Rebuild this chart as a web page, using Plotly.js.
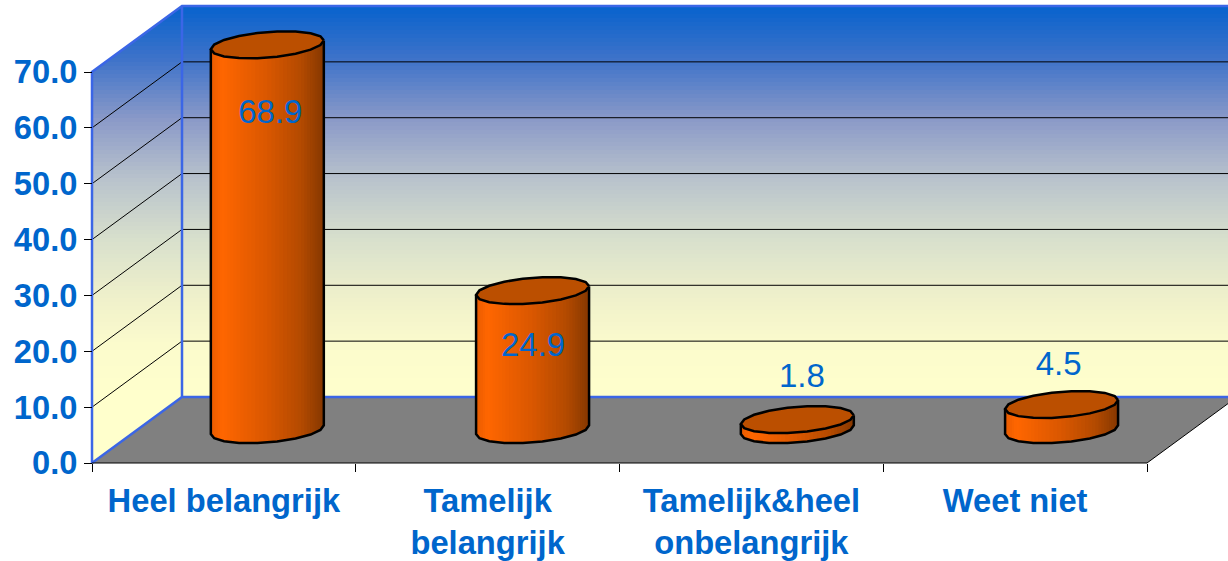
<!DOCTYPE html>
<html>
<head>
<meta charset="utf-8">
<script src="https://cdn.plot.ly/plotly-3.0.1.min.js"></script>
<style>html,body{margin:0;padding:0;background:#fff;overflow:hidden}</style>
</head>
<body>
<div id="chart" style="width:1228px;height:561px"></div>
<script>
const categories = ['Heel belangrijk', 'Tamelijk<br>belangrijk', 'Tamelijk&heel<br>onbelangrijk', 'Weet niet'];
const values = [68.9, 24.9, 1.8, 4.5];
const yTicks = [0, 10, 20, 30, 40, 50, 60, 70];

const W = 1228, H = 561;
const L = 92, R = 1147, T = 72, B = 463;
const pxX = (R - L) / 4, pxY = (B - T) / 70;
const depthX = 90 / pxX, depthY = 66 / pxY;          // oblique projection of the depth axis
const FONT = '"Liberation Sans", Arial, sans-serif';
const BLUE = '#0066CC', EDGE = '#3B66E6';
const barShift = [-2, -0.5, 0.5, 1];                  // small horizontal offset of each cylinder, px
const labelNudge = [[1, -70], [0, -57], [5, 41], [-2, 38]]; // label offset from cap centre, px

const X = (c, d) => c + d * depthX;
const Y = (v, d) => v + d * depthY;
const hex = s => [1, 3, 5].map(i => parseInt(s.substr(i, 2), 16));
function ramp(stops, p) {
  if (p <= stops[0][0]) return stops[0][1];
  for (let i = 1; i < stops.length; i++) {
    if (p <= stops[i][0]) {
      const f = (p - stops[i - 1][0]) / (stops[i][0] - stops[i - 1][0]);
      const a = hex(stops[i - 1][1]), b = hex(stops[i][1]);
      return 'rgb(' + a.map((q, k) => Math.round(q + (b[k] - q) * f)).join(',') + ')';
    }
  }
  return stops[stops.length - 1][1];
}
const wallStops = [[6, '#0762CD'], [60, '#3F73C9'], [120, '#8B9AC8'], [180, '#B9C3CC'],
                   [240, '#D8E0CC'], [300, '#F0F1CB'], [345, '#FBFBCC'], [397, '#FFFFCC']];
const sideStops = [[0, '#E85C00'], [0.1, '#FF6600'], [0.5, '#D95700'], [0.8, '#B34A00'], [1, '#853800']];

const traces = [];
const poly = (xs, ys, color) => traces.push({type: 'scatter', mode: 'lines', x: xs, y: ys, fill: 'toself',
  fillcolor: color, line: {width: 0, color: color}, hoverinfo: 'skip', showlegend: false});
const line = (xs, ys, color, width) => traces.push({type: 'scatter', mode: 'lines', x: xs, y: ys,
  line: {color: color, width: width}, hoverinfo: 'skip', showlegend: false});

// keep the part of a polygon whose y is at or below a limit
function clipBelow(pts, lim) {
  const out = [];
  pts.forEach((p, i) => {
    const q = pts[(i + 1) % pts.length];
    if (p[1] <= lim) out.push(p);
    if ((p[1] <= lim) !== (q[1] <= lim)) {
      const f = (lim - p[1]) / (q[1] - p[1]);
      out.push([p[0] + (q[0] - p[0]) * f, lim]);
    }
  });
  return out;
}
function wall(pts) {
  for (let py = 6; py < 397 + 70; py += 4) {
    const c = clipBelow(pts, (B - py) / pxY);
    if (c.length > 2) poly(c.map(p => p[0]), c.map(p => p[1]), ramp(wallStops, py + 2));
  }
}
// walls
wall([[X(0, 1), Y(0, 1)], [X(4, 1), Y(0, 1)], [X(4, 1), Y(70, 1)], [X(0, 1), Y(70, 1)]]);
wall([[X(0, 0), Y(0, 0)], [X(0, 1), Y(0, 1)], [X(0, 1), Y(70, 1)], [X(0, 0), Y(70, 0)]]);
// floor
poly([X(0, 0), X(4, 0), X(4, 1), X(0, 1)], [Y(0, 0), Y(0, 0), Y(0, 1), Y(0, 1)], '#808080');
// gridlines
yTicks.filter(v => v > 0 && v < 70).forEach(v =>
  line([X(0, 0), X(0, 1), X(4, 1)], [Y(v, 0), Y(v, 1), Y(v, 1)], '#000000', 1));
// wall edges
line([X(0, 0), X(0, 0), X(0, 1), X(4, 1)], [0, 70, Y(70, 1), Y(70, 1)], EDGE, 2.5);
line([X(0, 1), X(0, 1)], [Y(70, 1), Y(0, 1)], EDGE, 2.5);
line([X(0, 0), X(0, 1), X(4, 1)], [0, Y(0, 1), Y(0, 1)], EDGE, 2.5);
// floor front edge and its right-hand side
line([X(0, 0), X(4, 0), X(4, 1)], [0, 0, Y(0, 1)], '#000000', 1);

// cylinders
const radiusX = 53.4 / pxX, radiusD = 0.205, midD = 0.505;
const t0 = Math.atan2(radiusD * depthX * pxX, radiusX * pxX);
const ringX = (c, t) => X(c + radiusX * Math.cos(t), midD + radiusD * Math.sin(t));
const ringY = (v, t) => Y(v, midD + radiusD * Math.sin(t));
values.forEach((val, i) => {
  const c = i + 0.5 + barShift[i] / pxX, top = val;
  const STR = 44;
  for (let s = 0; s < STR; s++) {
    const a = t0 - Math.PI * s / STR, b = t0 - Math.PI * (s + 1) / STR;
    const e = t0 - Math.PI * Math.min(s + 2, STR) / STR;   // overlap the next strip to hide seams
    const u = (Math.cos(a - t0) + Math.cos(b - t0) + 2) / 4;
    const ts = [a, b, e], xs = [], ys = [];
    ts.forEach(t => { xs.push(ringX(c, t)); ys.push(ringY(0, t)); });
    ts.slice().reverse().forEach(t => { xs.push(ringX(c, t)); ys.push(ringY(top, t)); });
    poly(xs, ys, ramp(sideStops, u));
  }
  const N = 18, tx = [], ty = [], sx = [], sy = [];
  for (let k = 0; k <= N; k++) {
    const t = t0 + 2 * Math.PI * k / N;
    tx.push(ringX(c, t)); ty.push(ringY(top, t));
  }
  poly(tx, ty, '#BB4F00');
  line(tx, ty, '#000000', 2.5);
  for (let k = 0; k <= N / 2; k++) {
    const t = t0 - 2 * Math.PI * k / N;
    sx.push(ringX(c, t)); sy.push(ringY(0, t));
  }
  sx.push(ringX(c, t0 - Math.PI)); sy.push(ringY(top, t0 - Math.PI));
  sx.unshift(ringX(c, t0)); sy.unshift(ringY(top, t0));
  line(sx, sy, '#000000', 2.5);
});
// value labels
traces.push({type: 'scatter', mode: 'text',
  x: values.map((v, i) => X(i + 0.5, midD) + labelNudge[i][0] / pxX),
  y: values.map((v, i) => Y(v, midD) + labelNudge[i][1] / pxY),
  text: values.map(v => v.toFixed(1)), textposition: 'middle center',
  textfont: {family: FONT, size: 33, color: BLUE}, hoverinfo: 'skip', showlegend: false});

const layout = {
  width: W, height: H, showlegend: false,
  paper_bgcolor: '#ffffff', plot_bgcolor: 'rgba(0,0,0,0)',
  margin: {l: 0, r: 0, t: 0, b: 0, pad: 0},
  xaxis: {
    type: 'linear', range: [-L / pxX, (W - L) / pxX], fixedrange: true, showgrid: false, zeroline: false,
    showline: false, anchor: 'free', position: (H - B) / H,
    tickmode: 'array', tickvals: categories.map((c, i) => i + 0.5), ticktext: categories,
    ticks: '', ticklabelstandoff: 15, tickangle: 0,
    tickfont: {family: FONT, size: 32.7, color: BLUE, weight: 'bold'},
    minor: {tickmode: 'array', tickvals: [0, 1, 2, 3, 4], ticks: 'outside', ticklen: 8, tickwidth: 1, tickcolor: '#000000', showgrid: false}
  },
  yaxis: {
    type: 'linear', range: [(B - H) / pxY, B / pxY], fixedrange: true, showgrid: false, zeroline: false, showline: false,
    anchor: 'free', position: L / W,
    tickmode: 'array', tickvals: yTicks, ticktext: yTicks.map(v => v.toFixed(1)),
    ticks: 'outside', ticklen: 8, tickwidth: 1, tickcolor: '#000000', ticklabelstandoff: 3.5,
    tickfont: {family: FONT, size: 32.7, color: BLUE, weight: 'bold'}
  }
};
Plotly.newPlot('chart', traces, layout, {displayModeBar: false, staticPlot: true});
</script>
</body>
</html>
